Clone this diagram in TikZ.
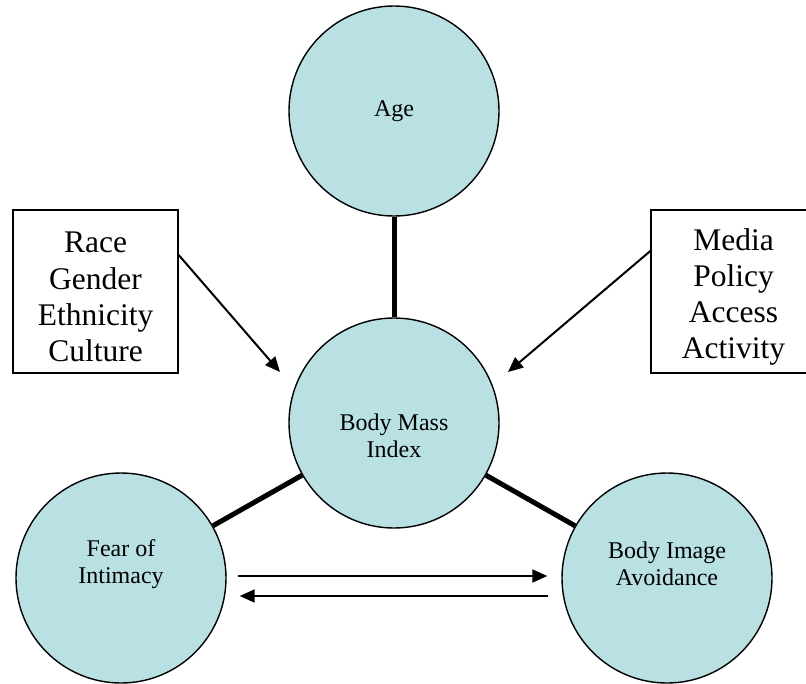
\documentclass[tikz,border=0pt]{standalone}
\usepackage{fontspec}
\setmainfont{Liberation Serif}
\usetikzlibrary{arrows.meta}
\definecolor{teal1}{RGB}{185,224,227}
\begin{document}
\begin{tikzpicture}[x=1pt,y=-1pt,
  bubble/.style={circle,draw=black,line width=1.4pt,fill=teal1,minimum size=210pt,inner sep=0pt},
  ctext/.style={align=center,font=\fontsize{24}{27.5}\selectfont,inner sep=0pt},
  factorbox/.style={draw=black,line width=1.4pt,fill=white,minimum width=165pt,minimum height=163pt,inner sep=0pt},
  btext/.style={align=center,inner sep=0pt,font=\fontsize{31.5}{36.2}\selectfont},
  link/.style={line width=5pt},
  infl/.style={line width=2pt,-{Triangle[length=15pt,width=13pt]}}]
\clip (0,0) rectangle (806,683);
\fill[white] (0,0) rectangle (806,683);
% circles
\node[bubble] (age) at (394,111) {};
\node[bubble] (bmi) at (394,423) {};
\node[bubble] (fear) at (121,578) {};
\node[bubble] (bia) at (667,578) {};
\node[ctext] (agetxt) at (394,111) {Age};
\node[ctext] (bmitxt) at (394,436) {Body Mass\\Index};
\node[ctext] (feartxt) at (121,564) {Fear of\\Intimacy};
\node[ctext] (biatxt) at (667,564) {Body Image\\Avoidance};
% boxes
\node[factorbox] (lbox) at (95.5,291.5) {};
\node[factorbox] (rbox) at (733.5,291.5) {};
\node[btext] (ltxt) at (95.5,297) {Race\\Gender\\Ethnicity\\Culture};
\node[btext] (rtxt) at (733.5,297) {Media\\Policy\\Access\\Activity};
% thick links
\draw[link] (age) -- (bmi);
\draw[link] (bmi) -- (fear);
\draw[link] (bmi) -- (bia);
% influence arrows
\coordinate (ltip) at (280,372);
\coordinate (rtip) at (508,372);
\draw[infl] ([yshift=36.5pt]lbox.east) -- (ltip);
\draw[infl] ([yshift=40.5pt]rbox.west) -- (rtip);
% reciprocal arrows
\draw[infl] ([shift={(11pt,2pt)}]fear.east) -- ([shift={(-14pt,2pt)}]bia.west);
\draw[infl] ([shift={(-13pt,-18pt)}]bia.west) -- ([shift={(13pt,-18pt)}]fear.east);
\end{tikzpicture}
\end{document}
